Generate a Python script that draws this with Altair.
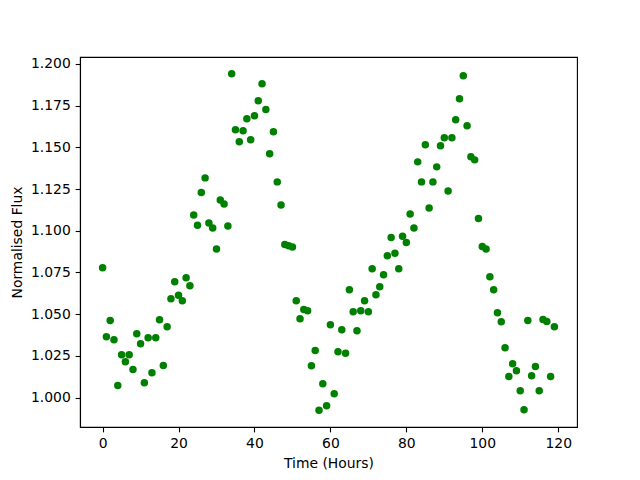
import altair as alt
import pandas as pd

hours = list(range(120))
flux = [
    1.0778, 1.0364, 1.0462, 1.0346, 1.0072, 1.0256, 1.0214, 1.0256, 1.0168, 1.0382,
    1.0322, 1.0088, 1.0358, 1.0148, 1.0358, 1.0466, 1.0192, 1.0424, 1.0592, 1.0694,
    1.0613, 1.0580, 1.0718, 1.0670, 1.1095, 1.1033, 1.1229, 1.1317, 1.1047, 1.1017,
    1.0891, 1.1185, 1.1161, 1.1029, 1.1941, 1.1605, 1.1533, 1.1600, 1.1671, 1.1545,
    1.1689, 1.1779, 1.1881, 1.1727, 1.1461, 1.1593, 1.1293, 1.1155, 1.0917, 1.0910,
    1.0903, 1.0580, 1.0472, 1.0528, 1.0520, 1.0190, 1.0282, 0.9924, 1.0082, 0.9950,
    1.0436, 1.0022, 1.0274, 1.0406, 1.0266, 1.0646, 1.0514, 1.0400, 1.0520, 1.0580,
    1.0514, 1.0772, 1.0616, 1.0664, 1.0736, 1.0850, 1.0959, 1.0865, 1.0772, 1.0967,
    1.0930, 1.1101, 1.1017, 1.1413, 1.1293, 1.1515, 1.1137, 1.1293, 1.1383, 1.1509,
    1.1557, 1.1239, 1.1557, 1.1665, 1.1791, 1.1929, 1.1629, 1.1443, 1.1425, 1.1073,
    1.0905, 1.0891, 1.0724, 1.0646, 1.0508, 1.0454, 1.0298, 1.0126, 1.0202, 1.0160,
    1.0040, 0.9926, 1.0462, 1.0130, 1.0186, 1.0040, 1.0468, 1.0456, 1.0126, 1.0424,
]
x_ticks = [0, 20, 40, 60, 80, 100, 120]
y_ticks = [1.000, 1.025, 1.050, 1.075, 1.100, 1.125, 1.150, 1.175, 1.200]

df = pd.DataFrame({"hours": hours, "flux": flux})

xmin, xmax = min(hours), max(hours)
ymin, ymax = min(flux), max(flux)
xm = (xmax - xmin) * 0.05
ym = (ymax - ymin) * 0.05

chart = alt.Chart(df).mark_circle(size=56, color="#008000", opacity=1).encode(
    x=alt.X("hours:Q",
            scale=alt.Scale(domain=[xmin - xm, xmax + xm], nice=False, zero=False),
            axis=alt.Axis(values=x_ticks, title="Time (Hours)", format="d")),
    y=alt.Y("flux:Q",
            scale=alt.Scale(domain=[ymin - ym, ymax + ym], nice=False, zero=False),
            axis=alt.Axis(values=y_ticks, title="Normalised Flux", format=".3f")),
).properties(
    width=497, height=370,
    autosize=alt.AutoSizeParams(type="none"),
    padding={"left": 72, "top": 49, "right": 55, "bottom": 45},
    background="white",
).configure_view(
    stroke="black", strokeWidth=1.1
).configure_axis(
    grid=False,
    labelFont="DejaVu Sans", titleFont="DejaVu Sans",
    labelFontSize=13.9, titleFontSize=13.9, titleFontWeight="normal",
    labelColor="black", titleColor="black",
    tickColor="black", domainColor="black",
    tickWidth=1.1, domainWidth=1.1, tickSize=4.86,
    labelPadding=4.86, titlePadding=5.6,
    labelFlush=False, labelOverlap=False,
)

chart.save("out.html", embed_options={"renderer": "svg", "actions": False})
